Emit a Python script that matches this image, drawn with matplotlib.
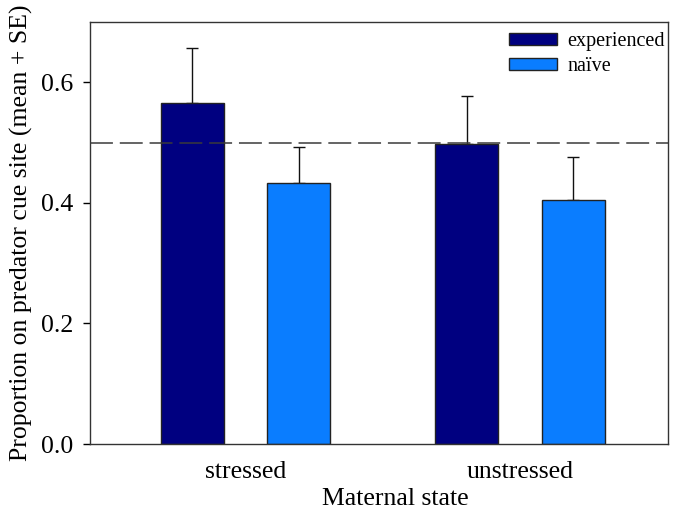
import numpy as np
import matplotlib.pyplot as plt

plt.rcParams['font.family'] = ['Liberation Serif', 'DejaVu Serif']

# data
groups = ['stressed', 'unstressed']
experienced = [0.566, 0.497]
experienced_se = [0.091, 0.080]
naive = [0.433, 0.405]
naive_se = [0.060, 0.071]

fig = plt.figure(figsize=(6.75, 5.11), dpi=100)
ax = fig.add_axes([0.1333, 0.1311, 0.8563, 0.8259])

x = np.arange(len(groups))
w = 0.229
off = 0.194
ax.bar(x - off, experienced, w, color='#000080', edgecolor='#222222', linewidth=1,
       label='experienced', zorder=2)
ax.bar(x + off, naive, w, color='#0A7DFF', edgecolor='#222222', linewidth=1,
       label='na\u00efve', zorder=2)
ax.errorbar(x - off, experienced, yerr=[np.zeros(2), experienced_se], fmt='none',
            ecolor='#111111', elinewidth=1, capsize=4.5, capthick=1, zorder=1)
ax.errorbar(x + off, naive, yerr=[np.zeros(2), naive_se], fmt='none',
            ecolor='#111111', elinewidth=1, capsize=4.5, capthick=1, zorder=1)

# reference line at 0.5
ax.axhline(0.5, color='#3a3a3a', linestyle=(0, (15, 4.5)), linewidth=1.1, zorder=3)

ax.set_xlim(-0.566, 1.539)
ax.set_ylim(0, 0.7)
ax.set_yticks([0.0, 0.2, 0.4, 0.6])
ax.set_yticklabels(['0.0', '0.2', '0.4', '0.6'])
ax.set_xticks(x)
ax.set_xticklabels(groups)
ax.tick_params(axis='x', length=0, pad=12, labelsize=18.5)
ax.tick_params(axis='y', direction='out', length=5, width=1, labelsize=18.5, pad=7)
for s in ax.spines.values():
    s.set_color('#333333')
    s.set_linewidth(1)

ax.set_xlabel('Maternal state', fontsize=18.5)
ax.xaxis.set_label_coords(0.528, -0.105)
ax.set_ylabel('Proportion on predator cue site (mean + SE)', fontsize=18.5, labelpad=6)

ax.legend(loc='upper right', bbox_to_anchor=(1.012, 1.0), frameon=False, fontsize=14.5,
          handlelength=2.4, handleheight=0.6, handletextpad=0.5, borderaxespad=0.1,
          labelspacing=0.3)

fig.savefig('out.png', dpi=100)
